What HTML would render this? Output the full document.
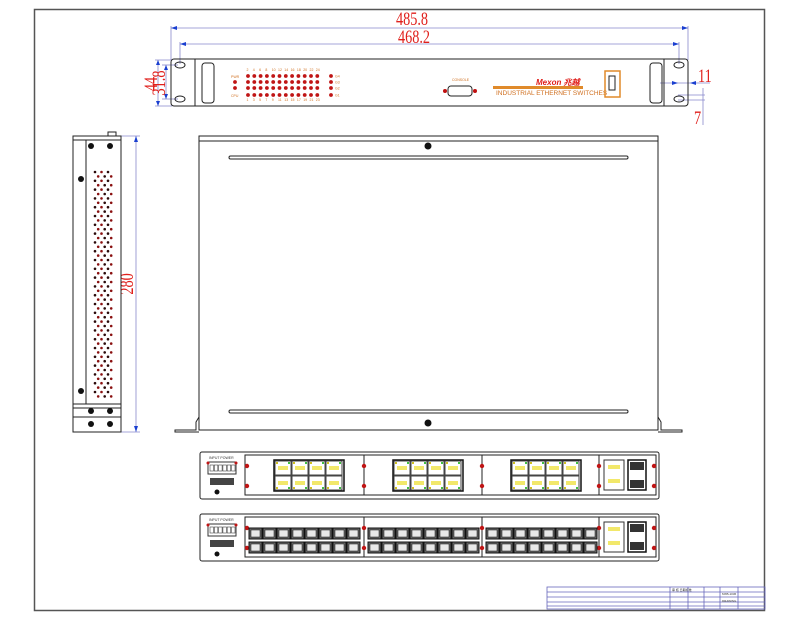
<!DOCTYPE html>
<html><head><meta charset="utf-8"><style>
html,body{margin:0;padding:0;background:#fff;width:800px;height:618px;overflow:hidden}
svg{display:block}
.dim{font-family:"Liberation Serif",serif;fill:#e0201c;font-size:19px}
.s{font-family:"Liberation Sans",sans-serif}
</style></head><body>
<svg id="sv" width="800" height="618" viewBox="0 0 800 618" xmlns="http://www.w3.org/2000/svg">
<g fill="none" stroke="#555" stroke-width="1.5">
<rect x="34.5" y="9.5" width="730" height="601"/>
</g>
<g stroke="#8888cc" stroke-width="0.8" fill="none">
<line x1="171" y1="28" x2="688" y2="28"/><line x1="180" y1="44" x2="679" y2="44"/>
<line x1="171" y1="26" x2="171" y2="60"/><line x1="688" y1="26" x2="688" y2="60"/>
<line x1="180" y1="42" x2="180" y2="64"/><line x1="679" y1="42" x2="679" y2="64"/>
<line x1="155" y1="60" x2="172" y2="60"/><line x1="155" y1="106" x2="172" y2="106"/>
<line x1="158" y1="60" x2="158" y2="106"/><line x1="166" y1="65" x2="166" y2="99"/>
<line x1="162" y1="65" x2="178" y2="65"/><line x1="162" y1="99" x2="178" y2="99"/>
<line x1="660" y1="83" x2="710" y2="83"/><line x1="678" y1="95" x2="705" y2="95"/><line x1="678" y1="100" x2="705" y2="100"/>
<line x1="703" y1="88" x2="703" y2="125"/>
<line x1="136" y1="136" x2="136" y2="432"/><line x1="121" y1="136" x2="140" y2="136"/><line x1="121" y1="432" x2="140" y2="432"/>
</g>
<g fill="#1a3fd0">
<path d="M171 28l6-2v4z M688 28l-6-2v4z M180 44l6-2v4z M679 44l-6-2v4z M136 136l-2 6h4z M136 432l-2-6h4z M158 60l-2 5h4z M158 106l-2-5h4z M166 65l-2 5h4z M166 99l-2-5h4z M678 83l-6-2v4z M690 83l6-2v4z"/>
</g>
<text class="dim" transform="translate(412,25) scale(0.75,1)" text-anchor="middle">485.8</text>
<text class="dim" transform="translate(414,43) scale(0.75,1)" text-anchor="middle">468.2</text>
<text class="dim" transform="translate(698,82) scale(0.75,1)">11</text>
<text class="dim" transform="translate(694,124) scale(0.75,1)">7</text>
<text class="dim" transform="translate(157,84) rotate(-90) scale(0.75,1)" text-anchor="middle" font-size="16">44</text>
<text class="dim" transform="translate(165,83) rotate(-90) scale(0.75,1)" text-anchor="middle" font-size="15">31.8</text>
<text class="dim" transform="translate(133,284) rotate(-90) scale(0.75,1)" text-anchor="middle" font-size="18">280</text>

<g stroke="#222" stroke-width="1" fill="none">
<rect x="171" y="59" width="517" height="47" rx="3"/>
<line x1="195" y1="59" x2="195" y2="106"/><line x1="664" y1="59" x2="664" y2="106"/>
<rect x="202" y="63" width="12" height="40" rx="3"/><rect x="650" y="63" width="12" height="40" rx="3"/>
<ellipse cx="180" cy="65" rx="5" ry="3"/><ellipse cx="180" cy="99" rx="5" ry="3"/>
<ellipse cx="679" cy="65" rx="5" ry="3"/><ellipse cx="679" cy="99" rx="5" ry="3"/>
<rect x="448" y="86" width="24" height="10" rx="3"/>
</g>
<rect x="493" y="86" width="90" height="3" fill="#e08a2a"/>
<text class="s" x="536" y="85" font-size="8" font-weight="bold" font-style="italic" fill="#e0201c">Mexon 兆越</text>
<text class="s" x="496" y="95" font-size="6.5" fill="#d07020">INDUSTRIAL ETHERNET SWITCHES</text>
<text class="s" x="452" y="81" font-size="3.5" fill="#d07020">CONSOLE</text>
<rect x="605" y="71" width="15" height="26" fill="none" stroke="#e08a2a" stroke-width="1.5"/>
<rect x="609" y="76" width="6" height="14" fill="none" stroke="#222"/>
<circle cx="445" cy="91" r="2" fill="#c01010"/><circle cx="475" cy="91" r="2" fill="#c01010"/>
<g id="leds"></g>

<g stroke="#222" stroke-width="1" fill="none">
<rect x="199" y="136" width="459" height="294"/>
<line x1="199" y1="141" x2="658" y2="141"/>
<rect x="229" y="156" width="399" height="3" rx="1.5"/>
<rect x="229" y="410" width="399" height="3" rx="1.5"/>
<path d="M199 417 l-3 5 v8 h-21 v2 h24"/>
<path d="M658 417 l3 5 v8 h21 v2 h-24"/>
</g>
<circle cx="428" cy="146" r="3.5" fill="#111"/><circle cx="428" cy="423" r="3.5" fill="#111"/>

<g stroke="#222" stroke-width="1" fill="none">
<rect x="73" y="136" width="48" height="296"/>
<rect x="108" y="132" width="8" height="4"/>
<line x1="73" y1="140" x2="121" y2="140"/>
<line x1="86" y1="140" x2="86" y2="404"/>
<line x1="73" y1="404" x2="121" y2="404"/><line x1="73" y1="408" x2="121" y2="408"/>
<line x1="73" y1="417" x2="121" y2="417"/>
</g>
<g fill="#111">
<circle cx="91" cy="146" r="3"/><circle cx="110" cy="146" r="3"/>
<circle cx="81" cy="179" r="3"/><circle cx="81" cy="391" r="3"/>
<circle cx="91" cy="411" r="3"/><circle cx="110" cy="411" r="3"/>
<circle cx="91" cy="424" r="3"/><circle cx="110" cy="424" r="3"/>
</g>
<g id="holes"></g>
<g id="rear"></g>

<g stroke="#6666bb" stroke-width="0.8" fill="none">
<rect x="547" y="587" width="218" height="22"/>
<line x1="547" y1="592" x2="765" y2="592"/><line x1="547" y1="597" x2="765" y2="597"/>
<line x1="547" y1="602" x2="765" y2="602"/><line x1="547" y1="606" x2="765" y2="606"/>
<line x1="670" y1="587" x2="670" y2="609"/><line x1="688" y1="587" x2="688" y2="609"/>
<line x1="704" y1="587" x2="704" y2="609"/><line x1="720" y1="587" x2="720" y2="609"/>
<line x1="738" y1="587" x2="738" y2="609"/>
</g>
<g class="s" font-size="3" fill="#333">
<text x="672" y="591">审 核 日期标准</text><text x="722" y="595">MXB-1036</text><text x="722" y="602">DRAWING</text>
</g>
</svg>
<script>
const NS="http://www.w3.org/2000/svg";
function el(p,t,a,txt){const e=document.createElementNS(NS,t);for(const k in a)e.setAttribute(k,a[k]);if(txt)e.textContent=txt;p.appendChild(e);return e;}
const L=document.getElementById('leds');
const rows=[76,82,88,95];
for(let r=0;r<4;r++){for(let c=0;c<12;c++)el(L,'circle',{cx:248+c*6.3,cy:rows[r],r:1.9,fill:'#c01515'});
 el(L,'circle',{cx:331,cy:rows[r],r:1.9,fill:'#c01515'});
 el(L,'text',{x:335,y:rows[r]+1.5,'font-size':3.5,fill:'#d07020','font-family':'Liberation Sans'},'G'+(4-r));}
el(L,'circle',{cx:235,cy:82,r:1.9,fill:'#c01515'});el(L,'circle',{cx:235,cy:88,r:1.9,fill:'#c01515'});
for(let c=0;c<12;c++){el(L,'text',{x:246.5+c*6.3,y:71,'font-size':3.5,fill:'#d07020','font-family':'Liberation Sans'},String(2*c+2));
 el(L,'text',{x:246.5+c*6.3,y:101,'font-size':3.5,fill:'#d07020','font-family':'Liberation Sans'},String(2*c+1));}
el(L,'text',{x:231,y:78,'font-size':3.5,fill:'#d07020','font-family':'Liberation Sans'},'PWR');
el(L,'text',{x:231,y:97,'font-size':3.5,fill:'#d07020','font-family':'Liberation Sans'},'CPU');
const H=document.getElementById('holes');
for(let y=172;y<=398;y+=4.4){const odd=Math.round((y-172)/4.4)%2;
 for(let c=0;c<3;c++)el(H,'circle',{cx:95+c*6.5+(odd?3.2:0),cy:y,r:1.3,fill:(c+odd)%2?'#8a1010':'#2a0a0a'});}
const R=document.getElementById('rear');
function panel(y0,fiber){
 el(R,'rect',{x:200,y:y0,width:459,height:47,rx:2,fill:'none',stroke:'#222'});
 const secs=[[245,364],[364,482],[482,599]];
 el(R,'rect',{x:245,y:y0+3,width:354,height:40,fill:'none',stroke:'#222'});
 el(R,'rect',{x:599,y:y0+3,width:57,height:40,fill:'none',stroke:'#222'});
 for(const [a,b] of secs){el(R,'line',{x1:b,y1:y0+3,x2:b,y2:y0+43,stroke:'#222'});}
 for(const x of [247,364,482,599,654]){el(R,'circle',{cx:x,cy:y0+14,r:2.2,fill:'#c01515'});el(R,'circle',{cx:x,cy:y0+34,r:2.2,fill:'#c01515'});}
 for(const [a,b] of secs){
  if(!fiber){const px=a+30;
   el(R,'rect',{x:px-1,y:y0+8,width:70,height:31,fill:'none',stroke:'#111','stroke-width':1.5});
   for(let r=0;r<2;r++)for(let c=0;c<4;c++){const x=px+c*17,y=y0+9+r*15;
    el(R,'rect',{x:x,y:y,width:16,height:14,fill:'#fff',stroke:'#444'});
    el(R,'rect',{x:x+3,y:y+5,width:10,height:4,fill:'#f2e86a'});
    el(R,'rect',{x:x+1,y:r?y+11:y+1,width:2,height:2,fill:'#d0c020'});el(R,'rect',{x:x+13,y:r?y+11:y+1,width:2,height:2,fill:'#40c040'});}
  } else {
   for(let r=0;r<2;r++)for(let c=0;c<8;c++){const x=a+4+c*14,y=y0+14+r*14;
    el(R,'rect',{x:x,y:y,width:13,height:11,fill:'#666',stroke:'#111'});
    el(R,'rect',{x:x+2,y:y+2,width:9,height:7,fill:'#e8e8e8',stroke:'#111','stroke-width':0.5});}
  }
 }
 el(R,'rect',{x:604,y:y0+8,width:20,height:30,fill:'#fff',stroke:'#333'});
 el(R,'rect',{x:608,y:y0+13,width:12,height:4,fill:'#f2e86a'});el(R,'rect',{x:608,y:y0+27,width:12,height:4,fill:'#f2e86a'});
 el(R,'rect',{x:628,y:y0+8,width:18,height:30,fill:'#fff',stroke:'#111','stroke-width':1.5});
 el(R,'rect',{x:630,y:y0+10,width:14,height:8,fill:'#333'});el(R,'rect',{x:630,y:y0+28,width:14,height:8,fill:'#333'});
 el(R,'rect',{x:208,y:y0+10,width:28,height:12,fill:'#fff',stroke:'#333'});
 for(let i=0;i<6;i++)el(R,'rect',{x:210+i*4.3,y:y0+13,width:3.5,height:6,fill:'#fff',stroke:'#444','stroke-width':0.6});
 el(R,'text',{x:209,y:y0+7,'font-size':3.5,fill:'#333','font-family':'Liberation Sans'},'INPUT POWER');
 el(R,'rect',{x:210,y:y0+26,width:24,height:7,fill:'#444'});
 el(R,'circle',{cx:217,cy:y0+40,r:2.5,fill:'#111'});
 el(R,'circle',{cx:208,cy:y0+11,r:1.5,fill:'#c01515'});el(R,'circle',{cx:236,cy:y0+11,r:1.5,fill:'#c01515'});
}
panel(452,false);panel(514,true);
</script>
</body></html>
